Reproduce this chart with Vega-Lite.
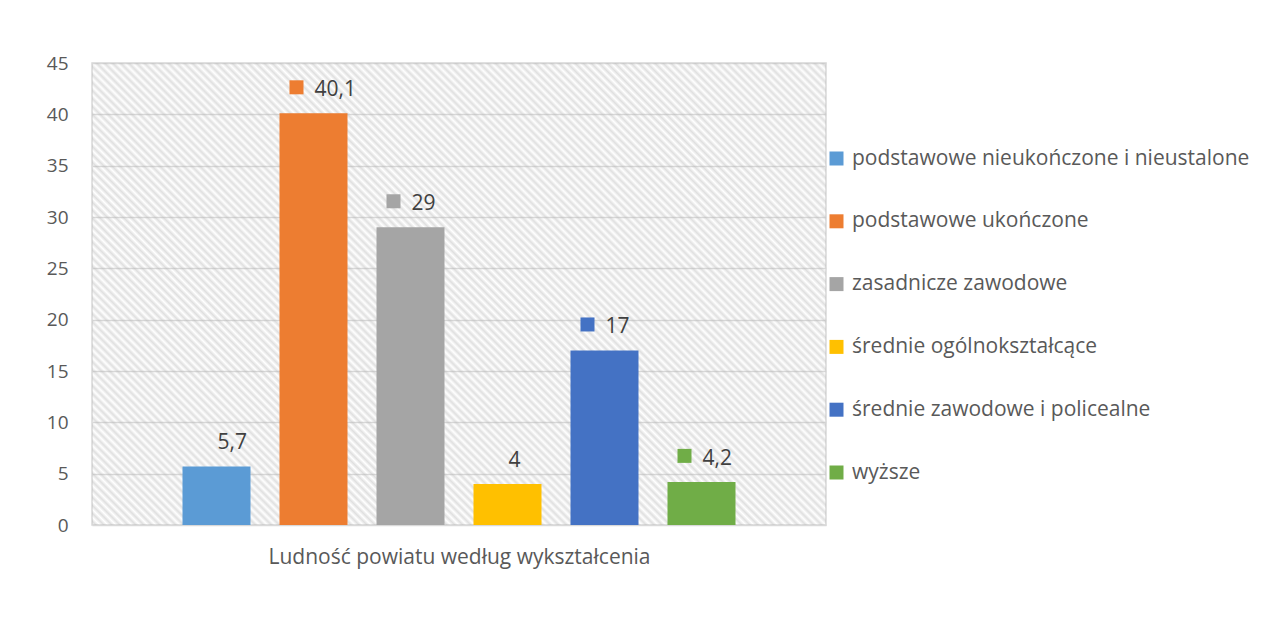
{
  "$schema": "https://vega.github.io/schema/vega-lite/v6.json",
  "width": 734,
  "height": 462,
  "autosize": {"type": "none"},
  "padding": {"left": 92, "top": 63, "right": 448, "bottom": 94},
  "background": "white",
  "config": {
    "font": "Open Sans",
    "locale": {"number": {"decimal": ",", "thousands": " ", "grouping": [3], "currency": ["", " zł"]}},
    "view": {"stroke": "#d9d9d9", "strokeWidth": 1.5, "fill": "white"}
  },
  "layer": [
    {
      "data": {"values": [{}]},
      "mark": {"type": "rect", "fillOpacity": 0.42, "fill": {"gradient": "linear", "x1": 0, "y1": 1, "x2": 1.1674, "y2": 0.2653, "stops": [
        {"offset":0,"color":"#b4b4b400"},{"offset":0.00333,"color":"#b4b4b4"},{"offset":0.00667,"color":"#b4b4b400"},
        {"offset":0.01,"color":"#b4b4b4"},{"offset":0.01333,"color":"#b4b4b400"},{"offset":0.01667,"color":"#b4b4b4"},
        {"offset":0.02,"color":"#b4b4b400"},{"offset":0.02333,"color":"#b4b4b4"},{"offset":0.02667,"color":"#b4b4b400"},
        {"offset":0.03,"color":"#b4b4b4"},{"offset":0.03333,"color":"#b4b4b400"},{"offset":0.03667,"color":"#b4b4b4"},
        {"offset":0.04,"color":"#b4b4b400"},{"offset":0.04333,"color":"#b4b4b4"},{"offset":0.04667,"color":"#b4b4b400"},
        {"offset":0.05,"color":"#b4b4b4"},{"offset":0.05333,"color":"#b4b4b400"},{"offset":0.05667,"color":"#b4b4b4"},
        {"offset":0.06,"color":"#b4b4b400"},{"offset":0.06333,"color":"#b4b4b4"},{"offset":0.06667,"color":"#b4b4b400"},
        {"offset":0.07,"color":"#b4b4b4"},{"offset":0.07333,"color":"#b4b4b400"},{"offset":0.07667,"color":"#b4b4b4"},
        {"offset":0.08,"color":"#b4b4b400"},{"offset":0.08333,"color":"#b4b4b4"},{"offset":0.08667,"color":"#b4b4b400"},
        {"offset":0.09,"color":"#b4b4b4"},{"offset":0.09333,"color":"#b4b4b400"},{"offset":0.09667,"color":"#b4b4b4"},
        {"offset":0.1,"color":"#b4b4b400"},{"offset":0.10333,"color":"#b4b4b4"},{"offset":0.10667,"color":"#b4b4b400"},
        {"offset":0.11,"color":"#b4b4b4"},{"offset":0.11333,"color":"#b4b4b400"},{"offset":0.11667,"color":"#b4b4b4"},
        {"offset":0.12,"color":"#b4b4b400"},{"offset":0.12333,"color":"#b4b4b4"},{"offset":0.12667,"color":"#b4b4b400"},
        {"offset":0.13,"color":"#b4b4b4"},{"offset":0.13333,"color":"#b4b4b400"},{"offset":0.13667,"color":"#b4b4b4"},
        {"offset":0.14,"color":"#b4b4b400"},{"offset":0.14333,"color":"#b4b4b4"},{"offset":0.14667,"color":"#b4b4b400"},
        {"offset":0.15,"color":"#b4b4b4"},{"offset":0.15333,"color":"#b4b4b400"},{"offset":0.15667,"color":"#b4b4b4"},
        {"offset":0.16,"color":"#b4b4b400"},{"offset":0.16333,"color":"#b4b4b4"},{"offset":0.16667,"color":"#b4b4b400"},
        {"offset":0.17,"color":"#b4b4b4"},{"offset":0.17333,"color":"#b4b4b400"},{"offset":0.17667,"color":"#b4b4b4"},
        {"offset":0.18,"color":"#b4b4b400"},{"offset":0.18333,"color":"#b4b4b4"},{"offset":0.18667,"color":"#b4b4b400"},
        {"offset":0.19,"color":"#b4b4b4"},{"offset":0.19333,"color":"#b4b4b400"},{"offset":0.19667,"color":"#b4b4b4"},
        {"offset":0.2,"color":"#b4b4b400"},{"offset":0.20333,"color":"#b4b4b4"},{"offset":0.20667,"color":"#b4b4b400"},
        {"offset":0.21,"color":"#b4b4b4"},{"offset":0.21333,"color":"#b4b4b400"},{"offset":0.21667,"color":"#b4b4b4"},
        {"offset":0.22,"color":"#b4b4b400"},{"offset":0.22333,"color":"#b4b4b4"},{"offset":0.22667,"color":"#b4b4b400"},
        {"offset":0.23,"color":"#b4b4b4"},{"offset":0.23333,"color":"#b4b4b400"},{"offset":0.23667,"color":"#b4b4b4"},
        {"offset":0.24,"color":"#b4b4b400"},{"offset":0.24333,"color":"#b4b4b4"},{"offset":0.24667,"color":"#b4b4b400"},
        {"offset":0.25,"color":"#b4b4b4"},{"offset":0.25333,"color":"#b4b4b400"},{"offset":0.25667,"color":"#b4b4b4"},
        {"offset":0.26,"color":"#b4b4b400"},{"offset":0.26333,"color":"#b4b4b4"},{"offset":0.26667,"color":"#b4b4b400"},
        {"offset":0.27,"color":"#b4b4b4"},{"offset":0.27333,"color":"#b4b4b400"},{"offset":0.27667,"color":"#b4b4b4"},
        {"offset":0.28,"color":"#b4b4b400"},{"offset":0.28333,"color":"#b4b4b4"},{"offset":0.28667,"color":"#b4b4b400"},
        {"offset":0.29,"color":"#b4b4b4"},{"offset":0.29333,"color":"#b4b4b400"},{"offset":0.29667,"color":"#b4b4b4"},
        {"offset":0.3,"color":"#b4b4b400"},{"offset":0.30333,"color":"#b4b4b4"},{"offset":0.30667,"color":"#b4b4b400"},
        {"offset":0.31,"color":"#b4b4b4"},{"offset":0.31333,"color":"#b4b4b400"},{"offset":0.31667,"color":"#b4b4b4"},
        {"offset":0.32,"color":"#b4b4b400"},{"offset":0.32333,"color":"#b4b4b4"},{"offset":0.32667,"color":"#b4b4b400"},
        {"offset":0.33,"color":"#b4b4b4"},{"offset":0.33333,"color":"#b4b4b400"},{"offset":0.33667,"color":"#b4b4b4"},
        {"offset":0.34,"color":"#b4b4b400"},{"offset":0.34333,"color":"#b4b4b4"},{"offset":0.34667,"color":"#b4b4b400"},
        {"offset":0.35,"color":"#b4b4b4"},{"offset":0.35333,"color":"#b4b4b400"},{"offset":0.35667,"color":"#b4b4b4"},
        {"offset":0.36,"color":"#b4b4b400"},{"offset":0.36333,"color":"#b4b4b4"},{"offset":0.36667,"color":"#b4b4b400"},
        {"offset":0.37,"color":"#b4b4b4"},{"offset":0.37333,"color":"#b4b4b400"},{"offset":0.37667,"color":"#b4b4b4"},
        {"offset":0.38,"color":"#b4b4b400"},{"offset":0.38333,"color":"#b4b4b4"},{"offset":0.38667,"color":"#b4b4b400"},
        {"offset":0.39,"color":"#b4b4b4"},{"offset":0.39333,"color":"#b4b4b400"},{"offset":0.39667,"color":"#b4b4b4"},
        {"offset":0.4,"color":"#b4b4b400"},{"offset":0.40333,"color":"#b4b4b4"},{"offset":0.40667,"color":"#b4b4b400"},
        {"offset":0.41,"color":"#b4b4b4"},{"offset":0.41333,"color":"#b4b4b400"},{"offset":0.41667,"color":"#b4b4b4"},
        {"offset":0.42,"color":"#b4b4b400"},{"offset":0.42333,"color":"#b4b4b4"},{"offset":0.42667,"color":"#b4b4b400"},
        {"offset":0.43,"color":"#b4b4b4"},{"offset":0.43333,"color":"#b4b4b400"},{"offset":0.43667,"color":"#b4b4b4"},
        {"offset":0.44,"color":"#b4b4b400"},{"offset":0.44333,"color":"#b4b4b4"},{"offset":0.44667,"color":"#b4b4b400"},
        {"offset":0.45,"color":"#b4b4b4"},{"offset":0.45333,"color":"#b4b4b400"},{"offset":0.45667,"color":"#b4b4b4"},
        {"offset":0.46,"color":"#b4b4b400"},{"offset":0.46333,"color":"#b4b4b4"},{"offset":0.46667,"color":"#b4b4b400"},
        {"offset":0.47,"color":"#b4b4b4"},{"offset":0.47333,"color":"#b4b4b400"},{"offset":0.47667,"color":"#b4b4b4"},
        {"offset":0.48,"color":"#b4b4b400"},{"offset":0.48333,"color":"#b4b4b4"},{"offset":0.48667,"color":"#b4b4b400"},
        {"offset":0.49,"color":"#b4b4b4"},{"offset":0.49333,"color":"#b4b4b400"},{"offset":0.49667,"color":"#b4b4b4"},
        {"offset":0.5,"color":"#b4b4b400"},{"offset":0.50333,"color":"#b4b4b4"},{"offset":0.50667,"color":"#b4b4b400"},
        {"offset":0.51,"color":"#b4b4b4"},{"offset":0.51333,"color":"#b4b4b400"},{"offset":0.51667,"color":"#b4b4b4"},
        {"offset":0.52,"color":"#b4b4b400"},{"offset":0.52333,"color":"#b4b4b4"},{"offset":0.52667,"color":"#b4b4b400"},
        {"offset":0.53,"color":"#b4b4b4"},{"offset":0.53333,"color":"#b4b4b400"},{"offset":0.53667,"color":"#b4b4b4"},
        {"offset":0.54,"color":"#b4b4b400"},{"offset":0.54333,"color":"#b4b4b4"},{"offset":0.54667,"color":"#b4b4b400"},
        {"offset":0.55,"color":"#b4b4b4"},{"offset":0.55333,"color":"#b4b4b400"},{"offset":0.55667,"color":"#b4b4b4"},
        {"offset":0.56,"color":"#b4b4b400"},{"offset":0.56333,"color":"#b4b4b4"},{"offset":0.56667,"color":"#b4b4b400"},
        {"offset":0.57,"color":"#b4b4b4"},{"offset":0.57333,"color":"#b4b4b400"},{"offset":0.57667,"color":"#b4b4b4"},
        {"offset":0.58,"color":"#b4b4b400"},{"offset":0.58333,"color":"#b4b4b4"},{"offset":0.58667,"color":"#b4b4b400"},
        {"offset":0.59,"color":"#b4b4b4"},{"offset":0.59333,"color":"#b4b4b400"},{"offset":0.59667,"color":"#b4b4b4"},
        {"offset":0.6,"color":"#b4b4b400"},{"offset":0.60333,"color":"#b4b4b4"},{"offset":0.60667,"color":"#b4b4b400"},
        {"offset":0.61,"color":"#b4b4b4"},{"offset":0.61333,"color":"#b4b4b400"},{"offset":0.61667,"color":"#b4b4b4"},
        {"offset":0.62,"color":"#b4b4b400"},{"offset":0.62333,"color":"#b4b4b4"},{"offset":0.62667,"color":"#b4b4b400"},
        {"offset":0.63,"color":"#b4b4b4"},{"offset":0.63333,"color":"#b4b4b400"},{"offset":0.63667,"color":"#b4b4b4"},
        {"offset":0.64,"color":"#b4b4b400"},{"offset":0.64333,"color":"#b4b4b4"},{"offset":0.64667,"color":"#b4b4b400"},
        {"offset":0.65,"color":"#b4b4b4"},{"offset":0.65333,"color":"#b4b4b400"},{"offset":0.65667,"color":"#b4b4b4"},
        {"offset":0.66,"color":"#b4b4b400"},{"offset":0.66333,"color":"#b4b4b4"},{"offset":0.66667,"color":"#b4b4b400"},
        {"offset":0.67,"color":"#b4b4b4"},{"offset":0.67333,"color":"#b4b4b400"},{"offset":0.67667,"color":"#b4b4b4"},
        {"offset":0.68,"color":"#b4b4b400"},{"offset":0.68333,"color":"#b4b4b4"},{"offset":0.68667,"color":"#b4b4b400"},
        {"offset":0.69,"color":"#b4b4b4"},{"offset":0.69333,"color":"#b4b4b400"},{"offset":0.69667,"color":"#b4b4b4"},
        {"offset":0.7,"color":"#b4b4b400"},{"offset":0.70333,"color":"#b4b4b4"},{"offset":0.70667,"color":"#b4b4b400"},
        {"offset":0.71,"color":"#b4b4b4"},{"offset":0.71333,"color":"#b4b4b400"},{"offset":0.71667,"color":"#b4b4b4"},
        {"offset":0.72,"color":"#b4b4b400"},{"offset":0.72333,"color":"#b4b4b4"},{"offset":0.72667,"color":"#b4b4b400"},
        {"offset":0.73,"color":"#b4b4b4"},{"offset":0.73333,"color":"#b4b4b400"},{"offset":0.73667,"color":"#b4b4b4"},
        {"offset":0.74,"color":"#b4b4b400"},{"offset":0.74333,"color":"#b4b4b4"},{"offset":0.74667,"color":"#b4b4b400"},
        {"offset":0.75,"color":"#b4b4b4"},{"offset":0.75333,"color":"#b4b4b400"},{"offset":0.75667,"color":"#b4b4b4"},
        {"offset":0.76,"color":"#b4b4b400"},{"offset":0.76333,"color":"#b4b4b4"},{"offset":0.76667,"color":"#b4b4b400"},
        {"offset":0.77,"color":"#b4b4b4"},{"offset":0.77333,"color":"#b4b4b400"},{"offset":0.77667,"color":"#b4b4b4"},
        {"offset":0.78,"color":"#b4b4b400"},{"offset":0.78333,"color":"#b4b4b4"},{"offset":0.78667,"color":"#b4b4b400"},
        {"offset":0.79,"color":"#b4b4b4"},{"offset":0.79333,"color":"#b4b4b400"},{"offset":0.79667,"color":"#b4b4b4"},
        {"offset":0.8,"color":"#b4b4b400"},{"offset":0.80333,"color":"#b4b4b4"},{"offset":0.80667,"color":"#b4b4b400"},
        {"offset":0.81,"color":"#b4b4b4"},{"offset":0.81333,"color":"#b4b4b400"},{"offset":0.81667,"color":"#b4b4b4"},
        {"offset":0.82,"color":"#b4b4b400"},{"offset":0.82333,"color":"#b4b4b4"},{"offset":0.82667,"color":"#b4b4b400"},
        {"offset":0.83,"color":"#b4b4b4"},{"offset":0.83333,"color":"#b4b4b400"},{"offset":0.83667,"color":"#b4b4b4"},
        {"offset":0.84,"color":"#b4b4b400"},{"offset":0.84333,"color":"#b4b4b4"},{"offset":0.84667,"color":"#b4b4b400"},
        {"offset":0.85,"color":"#b4b4b4"},{"offset":0.85333,"color":"#b4b4b400"},{"offset":0.85667,"color":"#b4b4b4"},
        {"offset":0.86,"color":"#b4b4b400"},{"offset":0.86333,"color":"#b4b4b4"},{"offset":0.86667,"color":"#b4b4b400"},
        {"offset":0.87,"color":"#b4b4b4"},{"offset":0.87333,"color":"#b4b4b400"},{"offset":0.87667,"color":"#b4b4b4"},
        {"offset":0.88,"color":"#b4b4b400"},{"offset":0.88333,"color":"#b4b4b4"},{"offset":0.88667,"color":"#b4b4b400"},
        {"offset":0.89,"color":"#b4b4b4"},{"offset":0.89333,"color":"#b4b4b400"},{"offset":0.89667,"color":"#b4b4b4"},
        {"offset":0.9,"color":"#b4b4b400"},{"offset":0.90333,"color":"#b4b4b4"},{"offset":0.90667,"color":"#b4b4b400"},
        {"offset":0.91,"color":"#b4b4b4"},{"offset":0.91333,"color":"#b4b4b400"},{"offset":0.91667,"color":"#b4b4b4"},
        {"offset":0.92,"color":"#b4b4b400"},{"offset":0.92333,"color":"#b4b4b4"},{"offset":0.92667,"color":"#b4b4b400"},
        {"offset":0.93,"color":"#b4b4b4"},{"offset":0.93333,"color":"#b4b4b400"},{"offset":0.93667,"color":"#b4b4b4"},
        {"offset":0.94,"color":"#b4b4b400"},{"offset":0.94333,"color":"#b4b4b4"},{"offset":0.94667,"color":"#b4b4b400"},
        {"offset":0.95,"color":"#b4b4b4"},{"offset":0.95333,"color":"#b4b4b400"},{"offset":0.95667,"color":"#b4b4b4"},
        {"offset":0.96,"color":"#b4b4b400"},{"offset":0.96333,"color":"#b4b4b4"},{"offset":0.96667,"color":"#b4b4b400"},
        {"offset":0.97,"color":"#b4b4b4"},{"offset":0.97333,"color":"#b4b4b400"},{"offset":0.97667,"color":"#b4b4b4"},
        {"offset":0.98,"color":"#b4b4b400"},{"offset":0.98333,"color":"#b4b4b4"},{"offset":0.98667,"color":"#b4b4b400"},
        {"offset":0.99,"color":"#b4b4b4"},{"offset":0.99333,"color":"#b4b4b400"},{"offset":0.99667,"color":"#b4b4b4"},
        {"offset":1,"color":"#b4b4b400"}
      ]}},
      "encoding": {
        "x": {"value": 0},
        "x2": {"value": "width"},
        "y": {"value": 0},
        "y2": {"value": "height"}
      }
    },
    {
      "data": {
        "values": [
          {"wyksztalcenie": "podstawowe nieukończone i nieustalone", "procent": 5.7, "znacznik": false},
          {"wyksztalcenie": "podstawowe ukończone", "procent": 40.1, "znacznik": true},
          {"wyksztalcenie": "zasadnicze zawodowe", "procent": 29, "znacznik": true},
          {"wyksztalcenie": "średnie ogólnokształcące", "procent": 4, "znacznik": false},
          {"wyksztalcenie": "średnie zawodowe i policealne", "procent": 17, "znacznik": true},
          {"wyksztalcenie": "wyższe", "procent": 4.2, "znacznik": true}
        ]
      },
      "encoding": {
        "x": {
          "field": "wyksztalcenie",
          "type": "nominal",
          "sort": null,
          "title": "Ludność powiatu według wykształcenia",
          "scale": {"paddingInner": 0.299, "paddingOuter": 0.933},
          "axis": {"labels": false, "ticks": false, "domain": false, "titleFontSize": 21, "titleFontWeight": "normal", "titleColor": "#595959", "titlePadding": 21}
        },
        "y": {
          "field": "procent",
          "type": "quantitative",
          "title": null,
          "scale": {"domain": [0, 45], "nice": false},
          "axis": {"values": [0, 5, 10, 15, 20, 25, 30, 35, 40, 45], "labelFontSize": 19, "labelColor": "#595959", "labelPadding": 24, "ticks": false, "domain": false, "gridColor": "#d9d9d9", "gridWidth": 1.5}
        },
        "color": {
          "field": "wyksztalcenie",
          "type": "nominal",
          "sort": null,
          "scale": {
            "domain": ["podstawowe nieukończone i nieustalone", "podstawowe ukończone", "zasadnicze zawodowe", "średnie ogólnokształcące", "średnie zawodowe i policealne", "wyższe"],
            "range": ["#5b9bd5", "#ed7d31", "#a5a5a5", "#ffc000", "#4472c4", "#70ad47"]
          },
          "legend": {
            "title": null,
            "orient": "none",
            "legendX": 734,
            "legendY": 85,
            "padding": 0,
            "symbolType": "square",
            "symbolSize": 196,
            "symbolStrokeWidth": 0,
            "symbolOpacity": 1,
            "labelFontSize": 21,
            "labelColor": "#595959",
            "labelOffset": 5,
            "labelLimit": 0,
            "rowPadding": 40.8
          }
        }
      },
      "layer": [
        {"mark": {"type": "bar"}},
        {
          "transform": [{"filter": "datum.znacznik"}],
          "mark": {"type": "point", "shape": "square", "filled": true, "opacity": 1, "size": 196, "xOffset": -17, "yOffset": -26}
        },
        {
          "mark": {"type": "text", "align": "left", "baseline": "alphabetic", "dx": 1, "dy": -17, "fontSize": 21},
          "encoding": {
            "text": {"field": "procent", "type": "quantitative", "format": ".1~f"},
            "color": {"value": "#404040"}
          }
        }
      ]
    }
  ]
}
